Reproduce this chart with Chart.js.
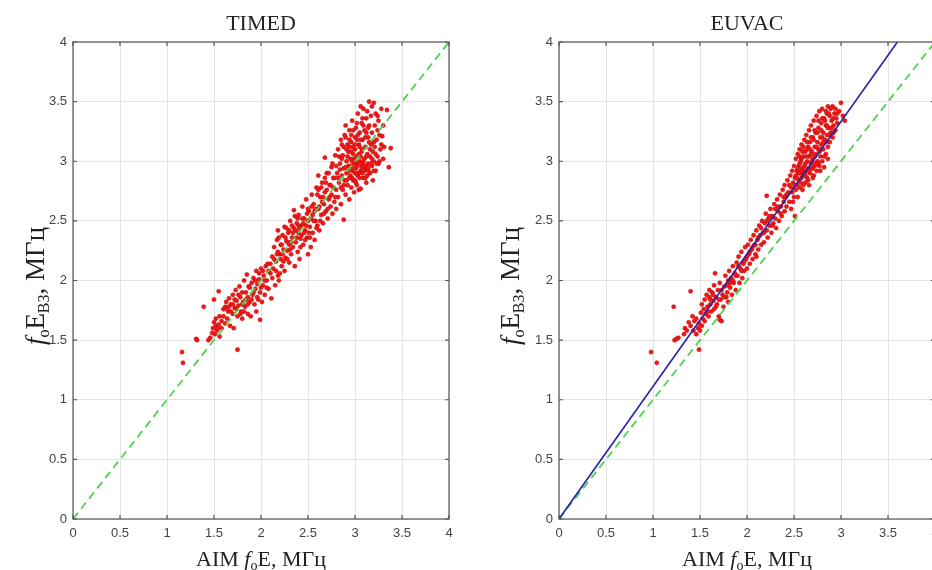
<!DOCTYPE html>
<html>
<head>
<meta charset="utf-8">
<script src="https://cdn.jsdelivr.net/npm/chart.js@4.4.0/dist/chart.umd.min.js"></script>
<style>
  html, body { margin: 0; padding: 0; background: #fff; overflow: hidden; width: 932px; height: 570px; }
  #left { position: absolute; left: 0; top: 0; width: 466px; height: 570px; }
  #right { position: absolute; left: 466px; top: 0; width: 490px; height: 570px; }
</style>
</head>
<body>
<div id="left"><canvas id="timedChart"></canvas></div>
<div id="right"><canvas id="euvacChart"></canvas></div>
<script>
// axis ticks (both axes, both panels)
const tickValues = [0, 0.5, 1, 1.5, 2, 2.5, 3, 3.5, 4];

// y = x reference line and EUVAC fit line
const diagX = [0, 4];
const diagY = [0, 4];
const fitX = [0, 3.6];
const fitY = [0, 4];

// TIMED: AIM foE (x) vs foE vertical sounding (y)
const timedPoints = [
  [1.16,1.40],[1.17,1.31],[1.31,1.51],[1.32,1.50],[1.39,1.78],[1.44,1.50],[1.46,1.52],[1.48,1.56],
  [1.49,1.60],[1.50,1.65],[1.50,1.84],[1.51,1.55],[1.52,1.62],[1.53,1.58],[1.55,1.91],[1.55,1.63],
  [1.56,1.53],[1.58,1.60],[1.60,1.70],[1.62,1.78],[1.63,1.82],[1.64,1.68],[1.65,1.74],[1.66,1.85],
  [1.67,1.62],[1.68,1.80],[1.70,1.72],[1.70,1.88],[1.71,1.60],[1.72,1.77],[1.73,1.92],[1.74,1.83],
  [1.75,1.42],[1.75,1.70],[1.76,1.79],[1.77,1.95],[1.78,1.86],[1.79,1.74],[1.80,1.68],[1.80,1.90],
  [1.81,1.82],[1.82,2.00],[1.83,1.78],[1.84,1.90],[1.85,2.05],[1.86,1.72],[1.86,1.86],[1.87,1.95],
  [1.88,1.82],[1.89,1.70],[1.90,1.98],[1.91,1.88],[1.92,2.02],[1.93,1.80],[1.94,1.93],[1.95,2.08],
  [1.95,1.74],[1.96,1.97],[1.97,1.84],[1.98,2.01],[1.99,1.67],[1.99,1.90],[2.00,2.10],[2.01,1.82],
  [2.02,1.96],[2.03,2.04],[2.04,1.88],[2.05,2.12],[2.06,2.00],[2.07,2.14],[2.08,1.93],[2.10,2.06],
  [2.11,1.85],[2.12,2.20],[2.13,2.10],[2.14,2.28],[2.15,1.96],[2.16,2.16],[2.17,2.34],[2.18,2.42],
  [2.18,2.04],[2.19,2.00],[2.20,2.22],[2.21,2.30],[2.22,2.12],[2.23,2.38],[2.24,2.26],[2.25,2.08],
  [2.25,2.45],[2.26,2.19],[2.27,2.33],[2.28,2.25],[2.29,2.40],[2.30,2.15],[2.30,2.30],[2.31,2.50],
  [2.32,2.22],[2.33,2.36],[2.34,2.28],[2.35,2.59],[2.35,2.44],[2.36,2.12],[2.37,2.32],[2.38,2.48],
  [2.39,2.24],[2.40,2.40],[2.40,2.55],[2.41,2.18],[2.42,2.35],[2.43,2.46],[2.44,2.62],[2.45,2.30],
  [2.46,2.52],[2.47,2.42],[2.48,2.68],[2.49,2.36],[2.50,2.22],[2.50,2.50],[2.51,2.58],[2.52,2.45],
  [2.53,2.28],[2.54,2.72],[2.55,2.40],[2.55,2.55],[2.56,2.64],[2.57,2.34],[2.58,2.50],[2.59,2.78],
  [2.60,2.46],[2.61,2.88],[2.61,2.60],[2.62,2.42],[2.63,2.70],[2.64,2.55],[2.65,2.82],[2.66,2.48],
  [2.67,2.64],[2.68,3.03],[2.68,2.74],[2.69,2.58],[2.70,2.90],[2.71,2.52],[2.72,2.68],[2.73,2.80],
  [2.74,2.62],[2.75,2.95],[2.75,2.72],[2.76,2.56],[2.77,2.86],[2.78,2.66],[2.79,3.05],[2.80,2.76],
  [2.80,2.60],[2.81,2.90],[2.82,2.70],[2.82,3.10],[2.83,2.82],[2.84,2.98],[2.85,2.64],[2.85,3.18],
  [2.86,2.88],[2.87,2.76],[2.87,3.05],[2.88,2.51],[2.88,2.94],[2.89,3.22],[2.89,2.84],[2.90,3.30],
  [2.90,2.72],[2.91,3.00],[2.91,2.90],[2.92,3.14],[2.92,2.80],[2.93,2.96],[2.93,3.08],[2.94,2.68],
  [2.94,3.26],[2.95,2.88],[2.95,3.02],[2.96,2.78],[2.96,3.16],[2.97,2.92],[2.97,3.34],[2.98,2.84],
  [2.98,3.06],[2.99,2.98],[2.99,2.74],[3.00,3.20],[3.00,2.90],[3.00,3.10],[3.01,2.82],[3.01,3.28],
  [3.02,2.96],[3.02,3.04],[3.03,3.40],[3.03,2.88],[3.04,3.14],[3.04,2.76],[3.05,3.00],[3.05,3.24],
  [3.06,2.92],[3.06,2.77],[3.07,3.32],[3.07,3.08],[3.08,2.98],[3.08,3.18],[3.09,2.86],[3.09,3.44],
  [3.10,3.02],[3.10,3.26],[3.11,2.94],[3.11,3.12],[3.12,3.36],[3.12,2.82],[3.13,3.06],[3.13,2.88],
  [3.14,3.20],[3.14,2.98],[3.15,3.50],[3.15,3.30],[3.16,3.04],[3.16,2.90],[3.17,3.14],[3.17,3.38],
  [3.18,2.96],[3.18,3.24],[3.19,3.08],[3.19,2.84],[3.20,3.49],[3.20,3.00],[3.21,3.30],[3.21,3.12],
  [3.22,2.92],[3.22,3.40],[3.23,3.18],[3.24,3.04],[3.25,3.34],[3.25,2.98],[3.26,3.22],[3.27,3.10],
  [3.28,3.44],[3.29,3.21],[3.30,3.02],[3.31,3.12],[3.34,3.43],[3.36,2.95],[3.38,3.11],[2.93,2.92],
  [2.97,2.86],[3.01,2.94],[3.04,2.90],[3.07,2.95],[3.10,2.92],[2.95,2.96],[2.99,3.02],[3.03,2.98],
  [3.06,3.04],[3.09,3.00],[3.12,2.96],[2.91,3.10],[2.98,3.12],[3.05,3.12],[3.11,3.20],[3.14,3.28],
  [3.08,3.36],[3.02,3.18],[2.96,3.22],[2.84,2.93],[2.86,3.02],[2.88,3.12],[2.90,2.95],[2.92,3.04],
  [2.94,2.86],[2.96,3.08],[2.98,2.94],[3.00,3.00],[3.02,2.90],[3.04,3.06],[3.06,2.98],[3.08,3.10],
  [3.10,2.96],[3.12,3.04],[3.14,2.92],[3.16,3.10],[3.18,3.02],[3.20,3.16],[3.22,3.06],[3.24,3.26],
  [3.26,3.00],[3.28,3.14],[3.30,3.30],[3.13,3.42],[3.06,3.46],[3.18,3.46],[3.24,3.38],[3.02,3.32],
  [2.98,3.26],[2.94,3.18],[2.90,3.20],[2.86,3.14],[2.83,3.04],[2.80,2.96],[2.78,2.86],[2.76,2.98],
  [2.74,2.80],[2.72,2.90],[2.70,2.76],[2.68,2.86],[2.66,2.70],[2.64,2.78],[2.62,2.62],[2.60,2.72],
  [2.58,2.60],[2.56,2.50],[2.54,2.62],[2.52,2.36],[2.50,2.60],[2.48,2.46],[2.46,2.40],[2.44,2.52],
  [2.42,2.28],[2.40,2.46],[2.38,2.36],[2.36,2.54],[2.34,2.40],[2.32,2.32],[2.30,2.42],[2.28,2.18],
  [2.26,2.36],[2.24,2.16],[2.22,2.30],[2.20,2.06],[2.18,2.24],[2.16,2.08],[2.14,2.18],[2.12,2.02],
  [2.10,2.14],[2.08,2.08],[2.06,1.94],[2.04,2.00],[2.02,2.08],[2.00,1.94],[1.98,2.06],[1.96,1.86],
  [1.94,2.00],[1.92,1.90],[1.90,1.84],[1.88,1.94],[1.86,1.80],[1.84,1.84],[1.82,1.74],[1.80,1.80],
  [1.78,1.72],[1.76,1.88],[1.74,1.76],[1.72,1.84],[1.70,1.80],[1.68,1.74],[1.66,1.78],[1.64,1.76],
  [1.62,1.64],[1.60,1.76],[1.58,1.66],[1.56,1.70],[1.54,1.60],[1.52,1.68],[3.00,2.84],[3.02,2.80],
  [3.05,2.86],[3.08,2.90],[3.11,2.86],[3.14,2.94],[3.17,2.98],[3.20,2.92],[3.23,2.98],[3.15,3.16],
  [3.12,3.24],[3.09,3.30],[3.06,3.18],[3.03,3.22],[3.00,3.14],[2.97,3.00],[2.94,3.12],[2.91,2.84],
  [2.88,2.80],[2.85,2.78],[2.82,2.86],[2.79,2.70],[2.77,2.78],[2.73,2.70],[2.71,2.60],[2.69,2.82],
  [2.67,2.56],[2.65,2.66],[2.63,2.50],[2.61,2.76],[2.59,2.44],[2.57,2.58],[2.53,2.52],[2.51,2.40],
  [2.49,2.56],[2.47,2.34],[2.45,2.48],[2.43,2.38],[2.41,2.44],[2.39,2.52],[2.37,2.42],[2.33,2.46],
  [2.31,2.26],[2.29,2.32],[2.27,2.44],[2.23,2.22],[2.21,2.18],[2.19,2.36],[2.17,2.22]
];

// EUVAC: AIM foE (x) vs foE vertical sounding (y)
const euvacPoints = [
  [0.98,1.40],[1.04,1.31],[1.22,1.78],[1.23,1.50],[1.25,1.51],[1.27,1.52],[1.33,1.55],[1.34,1.60],
  [1.36,1.58],[1.38,1.65],[1.40,1.91],[1.40,1.62],[1.42,1.70],[1.44,1.66],[1.46,1.55],[1.48,1.60],
  [1.49,1.42],[1.49,1.64],[1.50,1.58],[1.51,1.73],[1.52,1.80],[1.53,1.68],[1.54,1.76],[1.55,1.84],
  [1.56,1.72],[1.57,1.88],[1.58,1.78],[1.59,1.70],[1.60,1.86],[1.60,1.92],[1.61,1.80],[1.62,1.74],
  [1.63,1.90],[1.64,1.83],[1.65,1.96],[1.65,1.76],[1.66,2.06],[1.67,1.86],[1.68,1.80],[1.69,1.92],
  [1.70,1.70],[1.71,1.67],[1.71,1.98],[1.72,1.84],[1.73,1.66],[1.74,1.88],[1.75,1.78],[1.76,1.95],
  [1.77,2.04],[1.78,1.86],[1.79,1.90],[1.80,2.00],[1.80,1.82],[1.81,2.08],[1.82,1.94],[1.83,2.02],
  [1.84,1.88],[1.85,2.12],[1.86,1.98],[1.87,2.06],[1.88,1.92],[1.89,2.15],[1.90,2.04],[1.91,2.20],
  [1.92,1.98],[1.93,2.10],[1.94,2.24],[1.95,2.02],[1.96,2.14],[1.97,2.08],[1.98,2.28],[1.99,2.18],
  [2.00,2.10],[2.01,2.30],[2.02,2.22],[2.03,2.14],[2.04,2.34],[2.05,2.26],[2.06,2.18],[2.07,2.38],
  [2.08,2.30],[2.09,2.22],[2.10,2.20],[2.10,2.42],[2.11,2.34],[2.12,2.26],[2.13,2.46],[2.14,2.38],
  [2.15,2.30],[2.16,2.50],[2.17,2.40],[2.18,2.32],[2.19,2.48],[2.20,2.56],[2.21,2.71],[2.21,2.42],
  [2.22,2.36],[2.23,2.52],[2.24,2.46],[2.25,2.60],[2.26,2.40],[2.27,2.54],[2.28,2.48],[2.29,2.64],
  [2.30,2.52],[2.31,2.44],[2.32,2.68],[2.33,2.58],[2.34,2.50],[2.35,2.72],[2.36,2.62],[2.37,2.54],
  [2.38,2.76],[2.39,2.66],[2.40,2.58],[2.40,2.80],[2.41,2.70],[2.42,2.62],[2.43,2.84],[2.44,2.74],
  [2.45,2.66],[2.46,2.88],[2.47,2.78],[2.47,2.60],[2.48,2.92],[2.49,2.82],[2.50,2.70],[2.50,2.96],
  [2.51,2.54],[2.51,2.86],[2.52,3.02],[2.52,2.76],[2.53,2.92],[2.53,2.80],[2.54,3.06],[2.54,2.70],
  [2.55,2.96],[2.55,2.84],[2.56,3.10],[2.56,2.78],[2.57,2.90],[2.57,3.00],[2.58,2.86],[2.58,3.14],
  [2.59,2.94],[2.59,2.76],[2.60,3.04],[2.60,2.88],[2.61,3.18],[2.61,2.96],[2.62,2.82],[2.62,3.08],
  [2.63,2.92],[2.63,3.22],[2.64,3.00],[2.64,2.86],[2.65,3.12],[2.65,2.94],[2.66,3.26],[2.66,3.04],
  [2.67,2.90],[2.67,3.16],[2.68,2.98],[2.68,3.30],[2.69,3.08],[2.69,2.94],[2.70,3.20],[2.70,3.02],
  [2.71,2.88],[2.71,3.34],[2.72,3.12],[2.72,2.96],[2.73,3.24],[2.73,3.06],[2.74,2.92],[2.74,3.38],
  [2.75,3.16],[2.75,3.00],[2.76,3.28],[2.76,3.10],[2.77,2.96],[2.77,3.42],[2.78,3.20],[2.78,3.04],
  [2.79,3.32],[2.79,3.14],[2.80,3.00],[2.80,3.44],[2.81,3.24],[2.81,3.10],[2.82,2.95],[2.82,3.36],
  [2.83,3.18],[2.84,3.30],[2.84,3.06],[2.85,3.40],[2.85,3.22],[2.86,3.12],[2.86,3.46],[2.87,3.28],
  [2.88,3.16],[2.88,3.38],[2.89,3.24],[2.90,3.34],[2.91,3.46],[2.91,3.20],[2.92,3.30],[2.93,3.40],
  [2.94,3.26],[2.95,3.36],[2.96,3.32],[2.98,3.42],[3.00,3.49],[3.02,3.38],[3.04,3.34],[2.52,2.88],
  [2.54,2.94],[2.56,2.98],[2.58,3.02],[2.60,2.80],[2.62,2.98],[2.64,3.10],[2.66,2.92],[2.68,3.06],
  [2.70,2.86],[2.72,3.04],[2.74,3.12],[2.76,2.98],[2.78,3.10],[2.80,3.20],[2.82,3.04],[2.84,3.16],
  [2.86,3.28],[2.88,3.22],[2.90,3.28],[2.92,3.36],[2.94,3.44],[2.96,3.40],[2.87,3.40],[2.83,3.34],
  [2.79,3.26],[2.75,3.24],[2.71,3.18],[2.67,3.10],[2.63,3.04],[2.59,3.08],[2.55,2.90],[2.51,2.80],
  [2.48,2.74],[2.45,2.80],[2.42,2.72],[2.39,2.70],[2.36,2.56],[2.33,2.62],[2.30,2.60],[2.27,2.46],
  [2.24,2.54],[2.21,2.50],[2.18,2.40],[2.15,2.44],[2.12,2.36],[2.09,2.30],[2.06,2.28],[2.03,2.24],
  [2.00,2.20],[1.97,2.16],[1.94,2.08],[1.91,2.12],[1.88,2.04],[1.85,2.00],[1.82,1.98],[1.79,1.96],
  [1.76,1.86],[1.73,1.92],[1.70,1.84],[1.67,1.78],[1.64,1.88],[1.61,1.84],[1.58,1.74],[1.55,1.66],
  [1.52,1.62],[1.46,1.68],[1.43,1.58],[2.85,3.30],[2.81,3.16],[2.77,3.08],[2.73,2.98],[2.69,3.00],
  [2.65,2.84],[2.61,2.90],[2.57,2.82],[2.53,2.86],[2.49,2.66],[2.92,3.24],[2.89,3.44],[2.84,3.42],
  [2.80,3.36],[2.76,3.34],[2.72,3.26],[2.68,3.20],[2.64,3.16],[2.60,3.12],[2.56,3.04],[2.62,2.88],
  [2.70,2.94],[2.78,2.92],[2.86,3.02],[2.66,2.80],[2.58,2.92]
];

const serif = '"Liberation Serif", "Times New Roman", serif';
const sans = '"Liberation Sans", Arial, sans-serif';

function toXY(xs, ys) {
  return xs.map((v, i) => ({ x: v, y: ys[i] }));
}

// draw a row of text pieces (normal / italic / subscript) centred on cx
function drawRuns(ctx, runs, cx, cy) {
  let total = 0;
  runs.forEach(r => { ctx.font = r.font; r.w = ctx.measureText(r.text).width; total += r.w; });
  let xx = cx - total / 2;
  runs.forEach(r => {
    ctx.font = r.font;
    ctx.fillText(r.text, xx, cy + (r.dy || 0));
    xx += r.w;
  });
}

const xLabelRuns = () => [
  { text: 'AIM ', font: '22px ' + serif },
  { text: 'f', font: 'italic 22px ' + serif },
  { text: 'o', font: '14px ' + serif, dy: 4 },
  { text: 'E, МГц', font: '22px ' + serif }
];
const yLabelRuns = () => [
  { text: 'f', font: 'italic 27px ' + serif },
  { text: 'o', font: '16px ' + serif, dy: 5 },
  { text: 'E', font: '27px ' + serif },
  { text: 'ВЗ', font: '16px ' + serif, dy: 5 },
  { text: ', МГц', font: '27px ' + serif }
];

// box, inward ticks, title and axis titles, MATLAB style
const framePlugin = {
  id: 'frame',
  afterDraw(chart, args, opts) {
    const { ctx, chartArea: a, scales: { x, y } } = chart;
    ctx.save();
    ctx.strokeStyle = '#555';
    ctx.lineWidth = 1.2;
    ctx.strokeRect(a.left, a.top, a.right - a.left, a.bottom - a.top);
    ctx.beginPath();
    tickValues.forEach(v => {
      const px = x.getPixelForValue(v), py = y.getPixelForValue(v);
      ctx.moveTo(px, a.bottom); ctx.lineTo(px, a.bottom - 4);
      ctx.moveTo(px, a.top); ctx.lineTo(px, a.top + 4);
      ctx.moveTo(a.left, py); ctx.lineTo(a.left + 4, py);
      ctx.moveTo(a.right, py); ctx.lineTo(a.right - 4, py);
    });
    ctx.stroke();

    ctx.fillStyle = '#222';
    ctx.textBaseline = 'alphabetic';
    ctx.textAlign = 'left';
    const cx = (a.left + a.right) / 2;
    drawRuns(ctx, [{ text: opts.title, font: '22px ' + serif }], cx, 30);
    drawRuns(ctx, xLabelRuns(), cx, 566);

    ctx.translate(opts.yLabelX, 286);
    ctx.rotate(-Math.PI / 2);
    drawRuns(ctx, yLabelRuns(), 0, 0);
    ctx.restore();
  }
};

function axis(width) {
  return {
    type: 'linear',
    min: 0,
    max: 4,
    afterBuildTicks: s => { s.ticks = tickValues.map(v => ({ value: v })); },
    ticks: {
      callback: v => String(v),
      color: '#444',
      font: { family: sans, size: 13 },
      padding: width ? 6 : 7,
      maxRotation: 0,
      autoSkip: false
    },
    grid: { color: '#e3e3e3', drawTicks: false },
    border: { display: false },
    afterFit: s => { if (width) s.width = width; else s.height = 51; }
  };
}

function makeChart(id, title, points, withFit, yAxisWidth, padRight, yLabelX) {
  const datasets = [];
  if (withFit) {
    datasets.push({
      data: toXY(fitX, fitY),
      showLine: true,
      borderColor: '#2323a8',
      borderWidth: 1.6,
      pointRadius: 0
    });
  }
  datasets.push({
    data: toXY(diagX, diagY),
    showLine: true,
    borderColor: '#4fd04f',
    borderWidth: 1.8,
    borderDash: [8, 5],
    pointRadius: 0
  });
  datasets.push({
    data: points.map(p => ({ x: p[0], y: p[1] })),
    backgroundColor: '#ee1a1a',
    borderColor: '#c40000',
    borderWidth: 0.5,
    pointRadius: 2.1
  });

  new Chart(document.getElementById(id), {
    type: 'scatter',
    data: { datasets },
    options: {
      responsive: true,
      maintainAspectRatio: false,
      animation: false,
      layout: { padding: { top: 42, right: padRight, left: 0, bottom: 0 } },
      plugins: {
        legend: { display: false },
        tooltip: { enabled: false },
        frame: { title, yLabelX }
      },
      scales: { x: axis(0), y: axis(yAxisWidth) }
    },
    plugins: [framePlugin]
  });
}

makeChart('timedChart', 'TIMED', timedPoints, false, 73, 17, 44);
makeChart('euvacChart', 'EUVAC', euvacPoints, true, 93, 21, 53);
</script>
</body>
</html>
